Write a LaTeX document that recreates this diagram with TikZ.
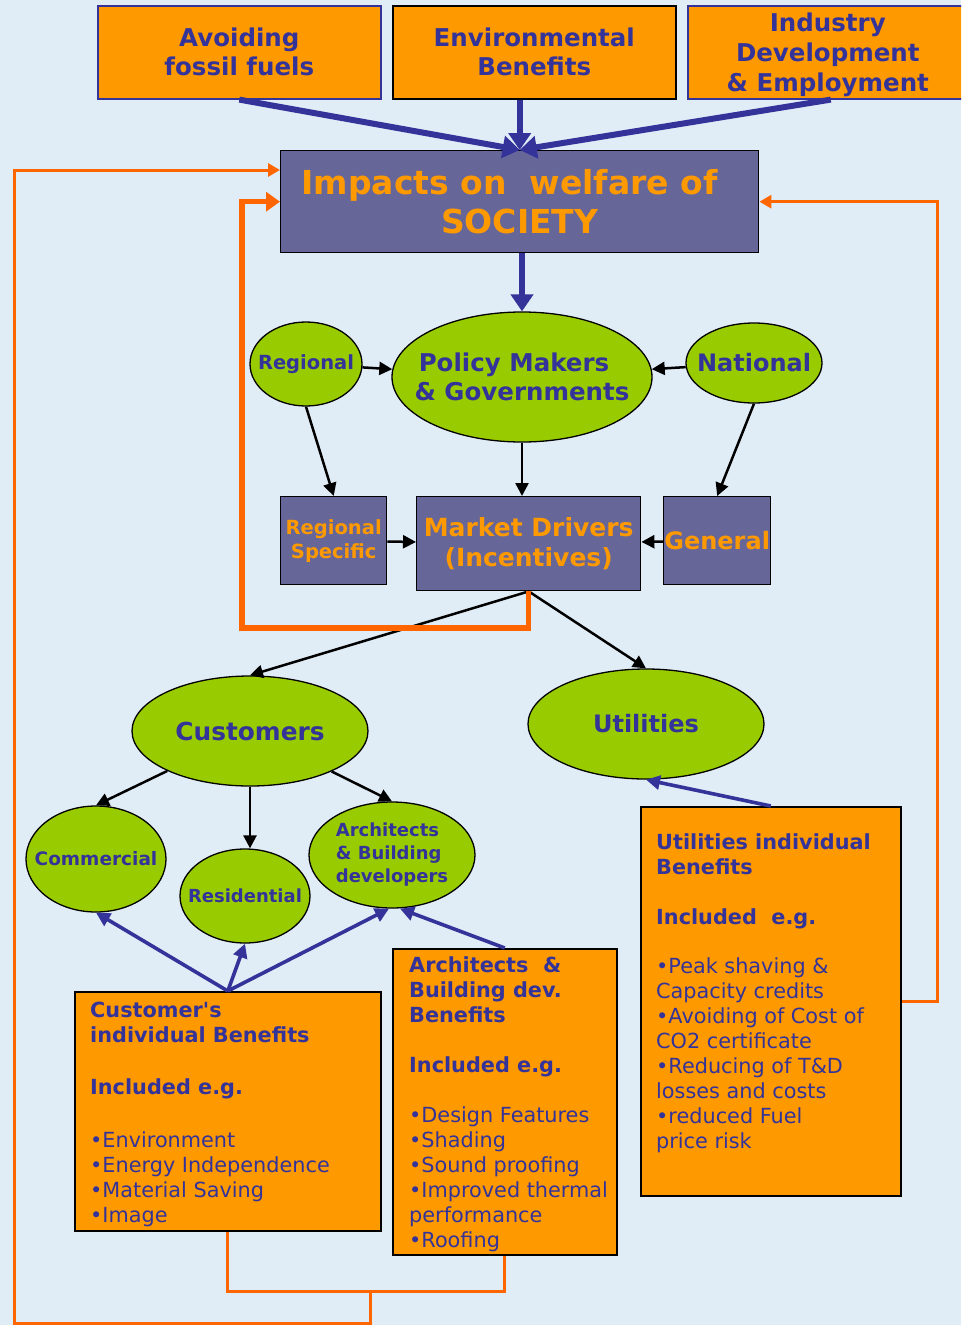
\documentclass[tikz,border=0pt]{standalone}
\usepackage{fontspec}
\setmainfont{DejaVu Sans}[Ligatures=TeXOff]
\usetikzlibrary{arrows.meta,shapes.geometric,calc}
\definecolor{bg}{RGB}{224,237,247}
\definecolor{org}{RGB}{255,153,0}
\definecolor{oline}{RGB}{255,102,0}
\definecolor{slate}{RGB}{102,102,153}
\definecolor{navy}{RGB}{51,51,153}
\definecolor{lime}{RGB}{153,204,0}
\begin{document}
\begin{tikzpicture}[x=1pt,y=-1pt,
  obox/.style={rectangle,draw=black,line width=1.6pt,fill=org,inner sep=0pt,anchor=north west},
  sbox/.style={rectangle,draw=black,line width=1.4pt,fill=slate,inner sep=0pt,anchor=north west,text=org,align=center},
  ell/.style={ellipse,draw=black,line width=1.3pt,fill=lime,inner sep=0pt},
  etext/.style={text=navy,align=center,inner sep=0pt,font=\bfseries},
  toptext/.style={text=navy,align=center,font=\bfseries\fontsize{24.5}{29}\selectfont},
  btext/.style={text=navy,align=left,inner sep=0pt,anchor=north west,font=\fontsize{20.8}{25}\selectfont},
  bigarr/.style={draw=navy,line width=6pt,-{Triangle[length=17pt,width=22pt]}},
  blk/.style={draw=black,line width=2.5pt,-{Triangle[length=13pt,width=13pt]}},
  blu/.style={draw=navy,line width=3.6pt,-{Triangle[length=14pt,width=14pt]}},
  othick/.style={draw=oline,line width=5.5pt,-{Triangle[length=14pt,width=19pt]}},
  othin/.style={draw=oline,line width=3pt},
  othinarr/.style={draw=oline,line width=3pt,-{Triangle[length=12pt,width=13pt]}}
]
\clip (0,0) rectangle (961,1325);
\fill[bg] (0,0) rectangle (961,1325);

% top boxes
\node[obox,draw=navy,minimum width=283pt,minimum height=93pt,toptext] (avoid) at (97,5) {Avoiding\\fossil fuels};
\node[obox,minimum width=283pt,minimum height=93pt,toptext] (env) at (392,5) {Environmental\\Benefits};
\node[obox,draw=navy,minimum width=280pt,minimum height=93pt] (ind) at (687,5) {};
\node[toptext,font=\bfseries\fontsize{24.5}{30}\selectfont,inner sep=0pt] (indt) at ([yshift=-3pt]ind.center) {Industry\\Development\\\& Employment};

% impacts
\node[sbox,minimum width=478pt,minimum height=102pt,font=\bfseries\fontsize{33}{39}\selectfont] (imp) at (280,150) {Impacts on\ \ welfare of\hspace*{20pt}\\SOCIETY};

% policy level
\node[ell,minimum width=260pt,minimum height=130pt] (pol) at (522,377) {};
\node[etext,font=\bfseries\fontsize{24.5}{29}\selectfont] (polt) at (pol.center) {Policy Makers\hspace*{16pt}\\\& Governments};
\node[ell,minimum width=112pt,minimum height=84pt] (reg) at (306,364) {};
\node[etext,font=\bfseries\fontsize{19.5}{24}\selectfont] (regt) at (reg.center) {Regional};
\node[ell,minimum width=136pt,minimum height=80pt] (nat) at (754,363) {};
\node[etext,font=\bfseries\fontsize{24}{29}\selectfont] (natt) at (nat.center) {National};

% drivers
\node[sbox,minimum width=106pt,minimum height=88pt,font=\bfseries\fontsize{19.5}{24}\selectfont] (rs) at (280,496) {Regional\\Specific};
\node[sbox,minimum width=224pt,minimum height=94pt,font=\bfseries\fontsize{25}{30}\selectfont] (md) at (416,496) {Market Drivers\\(Incentives)};
\node[sbox,minimum width=107pt,minimum height=88pt,font=\bfseries\fontsize{24}{29}\selectfont] (gen) at (663,496) {General};

% customers / utilities
\node[ell,minimum width=236pt,minimum height=110pt] (cust) at (250,731) {};
\node[etext,font=\bfseries\fontsize{24.8}{29}\selectfont] (custt) at (cust.center) {Customers};
\node[ell,minimum width=236pt,minimum height=110pt] (util) at (646,724) {};
\node[etext,font=\bfseries\fontsize{24}{29}\selectfont] (utilt) at (util.center) {Utilities};

\node[ell,minimum width=140pt,minimum height=106pt] (com) at (96,859) {};
\node[etext,font=\bfseries\fontsize{18.5}{23}\selectfont] (comt) at (com.center) {Commercial};
\node[ell,minimum width=130pt,minimum height=94pt] (res) at (245,896) {};
\node[etext,font=\bfseries\fontsize{18}{23}\selectfont] (rest) at (res.center) {Residential};
\node[ell,minimum width=166pt,minimum height=106pt] (arche) at (392,855) {};
\node[etext,align=left,font=\bfseries\fontsize{18}{23}\selectfont] (archet) at (arche.center) {Architects\\\& Building\\developers};

% benefit boxes
\node[obox,minimum width=306pt,minimum height=239pt] (cb) at (74,991) {};
\node[btext] (cbt) at ($(cb.north west)+(16,11)$) {\textbf{Customer's}\\\textbf{individual Benefits}\\[27pt]\textbf{Included e.g.}\\[28pt]•Environment\\•Energy Independence\\•Material Saving\\•Image};
\node[obox,minimum width=224pt,minimum height=306pt] (ab) at (392,948) {};
\node[btext] (abt) at ($(ab.north west)+(17,8)$) {\textbf{Architects\ \ \&}\\\textbf{Building dev.}\\\textbf{Benefits}\\[25pt]\textbf{Included e.g.}\\[25pt]•Design Features\\•Shading\\•Sound proofing\\•Improved thermal\\performance\\•Roofing};
\node[obox,minimum width=260pt,minimum height=389pt] (ub) at (640,806) {};
\node[btext] (ubt) at ($(ub.north west)+(16,27)$) {\textbf{Utilities individual}\\\textbf{Benefits}\\[25pt]\textbf{Included\ \ e.g.}\\[24pt]•Peak shaving \&\\Capacity credits\\•Avoiding of Cost of\\CO2 certificate\\•Reducing of T\&D\\losses and costs\\•reduced Fuel\\price risk};

% big arrows
\draw[bigarr] (avoid.south) -- (imp.north);
\draw[bigarr] (env.south -| imp.north) -- (imp.north);
\draw[bigarr] ([xshift=3pt]ind.south) -- (imp.north);
\draw[bigarr] (imp.south -| pol.north) -- (pol.north);

% black arrows
\draw[blk] (reg) -- (pol);
\draw[blk] (nat) -- (pol);
\draw[blk] (reg.south) -- (rs.north);
\draw[blk] (nat.south) -- (gen.north);
\draw[blk] (pol.south) -- (pol.south |- md.north);
\draw[blk] (rs) -- (md);
\draw[blk] (gen) -- (md);
\draw[blk] (md.south) -- (cust.north);
\draw[blk] (md.south) -- (util.north);
\draw[blk] (cust) -- (com.north);
\draw[blk] (cust.south) -- (cust.south |- res.north);
\draw[blk] (cust) -- (arche.north);

% blue arrows
\draw[blu] (cb.north) -- (com.south);
\draw[blu] (cb.north) -- (res.south);
\draw[blu] (cb.north) -- ([xshift=-3pt]arche.south);
\draw[blu] (ab.north) -- ([xshift=8pt]arche.south);
\draw[blu] (ub.north) -- (util.south);

% orange feedback loops
\coordinate (l1) at (242,628);
\draw[othick] (md.south) |- (l1) -- (l1 |- imp.west) -- (imp.west);
\coordinate (r1) at (937,1000);
\draw[othinarr] (ub.east) -- (r1 |- ub.east) |- (imp.east);
\coordinate (b1) at (370,1291);
\draw[othin] (cb.south) |- (b1) -| (ab.south);
\coordinate (b2) at (14,1323);
\draw[othinarr] (b1) |- (b2) |- ($(imp.north west)+(0,20)$);
\end{tikzpicture}
\end{document}
